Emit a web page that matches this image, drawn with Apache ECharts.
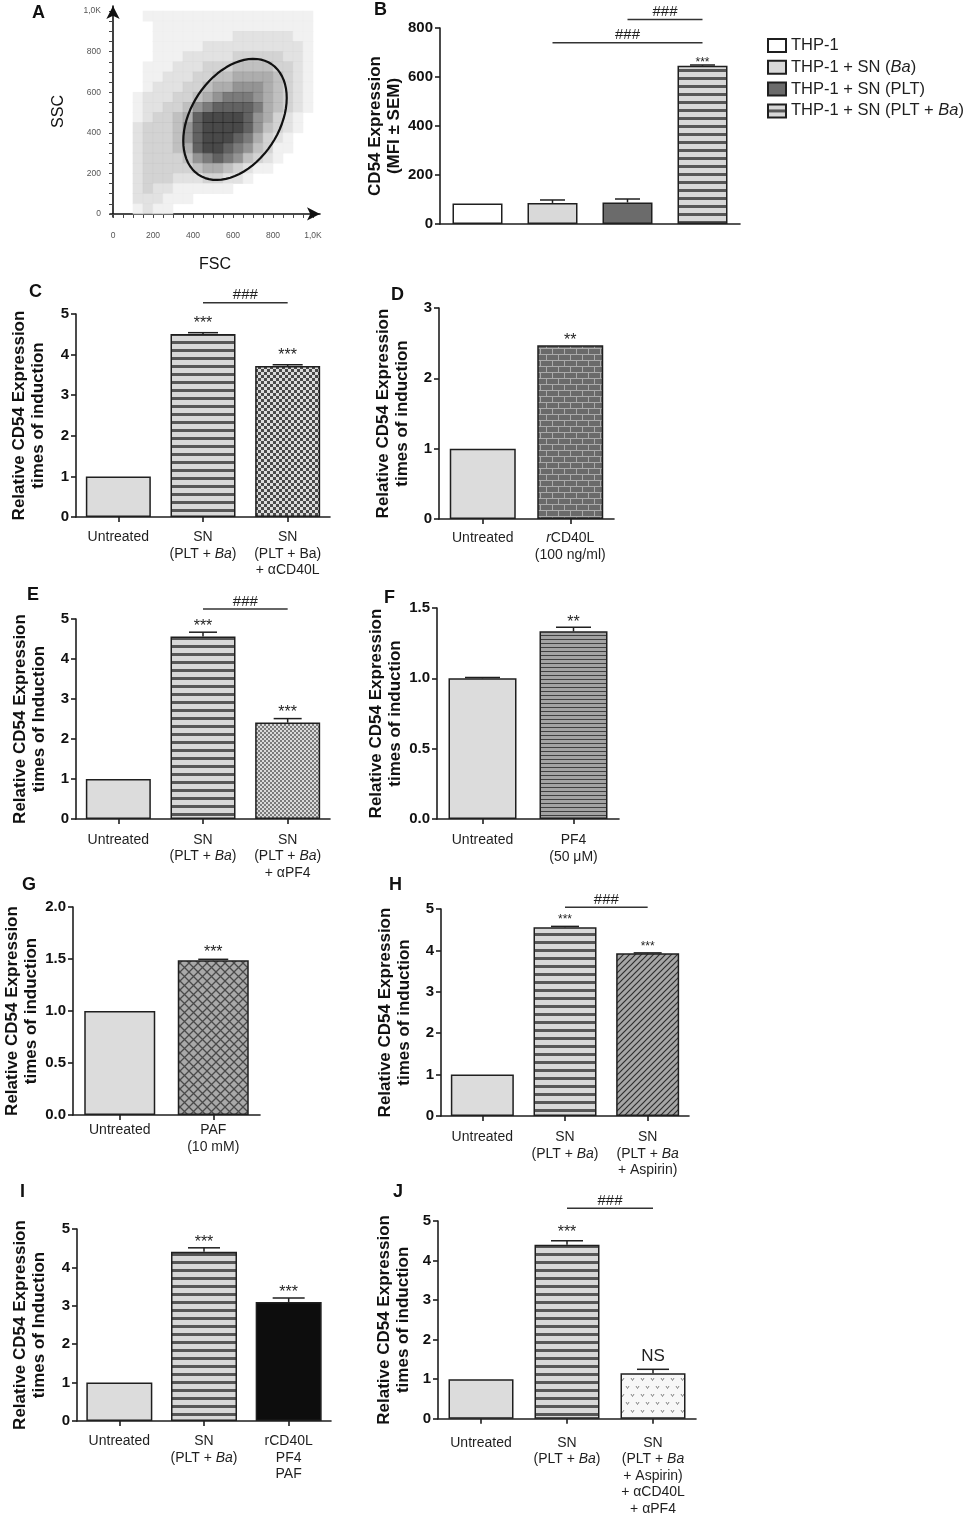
<!DOCTYPE html>
<html>
<head>
<meta charset="utf-8">
<title>CD54 expression panels</title>
<script src="https://cdn.jsdelivr.net/npm/echarts@6/dist/echarts.min.js"></script>
<style>
  html, body { margin: 0; padding: 0; background: #fff; }
  #main { width: 966px; height: 1516px; }
</style>
</head>
<body>
<div id="main"></div>
<script>
// ---------- A: FSC / SSC dot plot (density per 50-unit bin) ----------
var aTicks = [0, 200, 400, 600, 800, 1000];
var aMinorTicks = [0, 50, 100, 150, 200, 250, 300, 350, 400, 450, 500, 550, 600, 650, 700, 750, 800, 850, 900, 950, 1000];
var aBin = 50;
// rows from SSC 950-1000 (top) down to 0-50; columns FSC 0-50 ... 950-1000
var aDensity = [
  '00011111111111111111',
  '00001111111111111111',
  '00001111111122222211',
  '00001111122222222221',
  '00001112222233333221',
  '00011122233344443321',
  '00011222334455554321',
  '00012223345566654321',
  '00122233456777654321',
  '00122334678888754321',
  '00123345899998653210',
  '00233346899998643210',
  '00233346899987532100',
  '00233345899876431100',
  '00233334678764321000',
  '00233333455432110000',
  '00233322233221000000',
  '00232211111100000000',
  '00222111000000000000',
  '00121100000000000000'
];
var aGate = { cx: 610, cy: 466, a: 328, b: 220, angle: 56 };

// ---------- B ----------
var bNames = ['THP-1', 'THP-1 + SN (_Ba_)', 'THP-1 + SN (PLT)', 'THP-1 + SN (PLT + _Ba_)'];
var bMeans = [84, 86, 88, 646];
var bSem = [0, 12, 14, 3];
var bStars = ['', '', '', '***'];
var bBrackets = [[1, 3, 740, '###'], [2, 3, 835, '###']];

// ---------- C ----------
var cCats = ['Untreated', 'SN\n(PLT + _Ba_)', 'SN\n(PLT + Ba)\n+ \u03b1CD40L'];
var cMeans = [1.0, 4.51, 3.72];
var cSem = [0, 0.03, 0.03];
var cStars = ['', '***', '***'];
var cBrackets = [[1, 2, 5.28, '###']];

// ---------- D ----------
var dCats = ['Untreated', '_r_CD40L\n(100 ng/ml)'];
var dMeans = [1.0, 2.47];
var dSem = [0, 0];
var dStars = ['', '**'];

// ---------- E ----------
var eCats = ['Untreated', 'SN\n(PLT + _Ba_)', 'SN\n(PLT + _Ba_)\n+ \u03b1PF4'];
var eMeans = [1.0, 4.56, 2.41];
var eSem = [0, 0.11, 0.10];
var eStars = ['', '***', '***'];
var eBrackets = [[1, 2, 5.25, '###']];

// ---------- F ----------
var fCats = ['Untreated', 'PF4\n(50 \u03bcM)'];
var fMeans = [1.0, 1.334];
var fSem = [0.006, 0.03];
var fStars = ['', '**'];

// ---------- G ----------
var gCats = ['Untreated', 'PAF\n(10 mM)'];
var gMeans = [1.0, 1.487];
var gSem = [0, 0.01];
var gStars = ['', '***'];

// ---------- H ----------
var hCats = ['Untreated', 'SN\n(PLT + _Ba_)', 'SN\n(PLT + _Ba_\n+ Aspirin)'];
var hMeans = [1.0, 4.56, 3.93];
var hSem = [0, 0.02, 0.01];
var hStars = ['', '***', '***'];
var hBrackets = [[1, 2, 5.04, '###']];

// ---------- I ----------
var iCats = ['Untreated', 'SN\n(PLT + _Ba_)', 'rCD40L\nPF4\nPAF'];
var iMeans = [1.0, 4.41, 3.10];
var iSem = [0, 0.1, 0.1];
var iStars = ['', '***', '***'];

// ---------- J ----------
var jCats = ['Untreated', 'SN\n(PLT + _Ba_)', 'SN\n(PLT + _Ba_\n+ Aspirin)\n+ \u03b1CD40L\n+ \u03b1PF4'];
var jMeans = [1.0, 4.40, 1.15];
var jSem = [0, 0.1, 0.1];
var jStars = ['', '***', 'NS'];
var jBrackets = [[1, 2, 5.32, '###']];

var FONT = '"Liberation Sans", Arial, Helvetica, sans-serif';
var INK = '#1f1f1f';
var TITLE1 = 'Relative CD54 Expression\ntimes of induction';
var TITLE2 = 'Relative CD54 Expression\ntimes of Induction';

// fill patterns
function tile(w, h, paint) {
  var cv = document.createElement('canvas');
  cv.width = w; cv.height = h;
  paint(cv.getContext('2d'));
  return { image: cv, repeat: 'repeat' };
}
var plain = '#dcdcdc';
var stripes = tile(8, 8, function (g) {
  g.fillStyle = '#d8d8d8'; g.fillRect(0, 0, 8, 8);
  g.fillStyle = '#575757'; g.fillRect(0, 5, 8, 3);
});
var thinStripes = tile(4, 4, function (g) {
  g.fillStyle = '#a3a3a3'; g.fillRect(0, 0, 4, 4);
  g.fillStyle = '#404040'; g.fillRect(0, 3, 4, 1);
});
var checker = tile(6, 6, function (g) {
  g.fillStyle = '#dcdcdc'; g.fillRect(0, 0, 6, 6);
  g.fillStyle = '#4a4a4a'; g.fillRect(0, 0, 3, 3); g.fillRect(3, 3, 3, 3);
});
var fineChecker = tile(4, 4, function (g) {
  g.fillStyle = '#dadada'; g.fillRect(0, 0, 4, 4);
  g.fillStyle = '#7a7a7a'; g.fillRect(0, 0, 2, 2); g.fillRect(2, 2, 2, 2);
});
var brick = tile(12, 12, function (g) {
  g.fillStyle = '#6a6a6a'; g.fillRect(0, 0, 12, 12);
  g.fillStyle = '#aaaaaa';
  g.fillRect(0, 0, 12, 1); g.fillRect(0, 6, 12, 1);
  g.fillRect(0, 0, 1, 6); g.fillRect(6, 6, 1, 6);
});
var diamond = tile(9, 9, function (g) {
  g.fillStyle = '#a9a9a9'; g.fillRect(0, 0, 9, 9);
  g.strokeStyle = '#4a4a4a'; g.lineWidth = 1.3;
  g.beginPath(); g.moveTo(0, 0); g.lineTo(9, 9); g.moveTo(9, 0); g.lineTo(0, 9); g.stroke();
});
var diagonal = tile(6, 6, function (g) {
  g.fillStyle = '#a6a6a6'; g.fillRect(0, 0, 6, 6);
  g.strokeStyle = '#2e2e2e'; g.lineWidth = 1.2;
  g.beginPath(); g.moveTo(-1, 7); g.lineTo(7, -1); g.moveTo(-1, 1); g.lineTo(1, -1); g.moveTo(5, 7); g.lineTo(7, 5); g.stroke();
});
var vdots = tile(10, 16, function (g) {
  g.fillStyle = '#f7f7f7'; g.fillRect(0, 0, 10, 16);
  g.strokeStyle = '#7a7a7a'; g.lineWidth = 0.9;
  g.beginPath();
  g.moveTo(1, 2); g.lineTo(2.5, 4.5); g.lineTo(4, 2);
  g.moveTo(6, 10); g.lineTo(7.5, 12.5); g.lineTo(9, 10);
  g.stroke();
});

function richText(s) {
  return s.split('\n').map(function (line) {
    return line.split('_').map(function (part, k) {
      return part ? '{' + (k % 2 ? 'i' : 'n') + '|' + part + '}' : '';
    }).join('');
  }).join('\n');
}
function richStyle(size, lh) {
  return {
    n: { fontFamily: FONT, fontSize: size, lineHeight: lh, color: INK },
    i: { fontFamily: FONT, fontSize: size, lineHeight: lh, color: INK, fontStyle: 'italic' }
  };
}

var grids = [], xAxes = [], yAxes = [], series = [], titles = [];
var axisStyle = { color: INK, width: 1.6 };

function letter(t, cx, cy) {
  titles.push({ text: t, left: cx - 6, top: cy - 9, padding: 0,
    textStyle: { fontFamily: FONT, fontSize: 18, fontWeight: 'bold', color: '#111' } });
}

function textStyle(txt, x, y, fs) {
  return { text: txt, x: x, y: y, font: fs + 'px ' + FONT, fill: INK,
    align: 'center', verticalAlign: 'middle', textAlign: 'center', textVerticalAlign: 'middle' };
}

function addBarPanel(p) {
  var gi = grids.length, xi = xAxes.length, yi = yAxes.length;
  grids.push({ left: p.box[0], top: p.box[1], width: p.box[2], height: p.box[3] });
  xAxes.push({
    type: 'category', gridIndex: gi, data: p.cats,
    axisLine: { lineStyle: axisStyle },
    axisTick: { show: !p.legend, alignWithLabel: true, length: 5, lineStyle: axisStyle },
    axisLabel: { show: !p.legend, interval: 0, margin: p.labelMargin, formatter: richText, rich: richStyle(14, 16.5) }
  });
  yAxes.push({
    type: 'value', gridIndex: gi, min: 0, max: p.max, interval: p.step,
    splitLine: { show: false },
    axisLine: { show: true, lineStyle: axisStyle },
    axisTick: { show: true, length: 5, lineStyle: axisStyle },
    axisLabel: { margin: 7, color: '#111', fontFamily: FONT, fontSize: 15, fontWeight: 'bold',
      formatter: function (v) { return p.step < 1 ? v.toFixed(1) : String(v); } },
    name: p.yTitle, nameLocation: 'middle', nameGap: p.nameGap,
    nameTextStyle: { fontFamily: FONT, fontSize: 17, fontWeight: 'bold', color: '#111', lineHeight: 19 }
  });

  if (p.legend) {
    p.cats.forEach(function (name, k) {
      series.push({
        type: 'bar', name: name, xAxisIndex: xi, yAxisIndex: yi, barWidth: p.barWidth, barGap: '-100%',
        data: p.means.map(function (v, i) { return i === k ? v : '-'; }),
        itemStyle: { color: p.fills[k], borderColor: INK, borderWidth: 1.5 }
      });
    });
  } else {
    series.push({
      type: 'bar', xAxisIndex: xi, yAxisIndex: yi, barWidth: p.barWidth,
      data: p.means.map(function (v, i) { return { value: v, itemStyle: { color: p.fills[i] } }; }),
      itemStyle: { borderColor: INK, borderWidth: 1.5 }
    });
  }

  // error bars (upper half only, as in the figure)
  series.push({
    type: 'custom', xAxisIndex: xi, yAxisIndex: yi, z: 3,
    data: p.means.map(function (v, i) { return [i, v, v + p.sem[i]]; }),
    renderItem: function (params, api) {
      if (!p.sem[params.dataIndex]) return null;
      var lo = api.coord([api.value(0), api.value(1)]);
      var hi = api.coord([api.value(0), api.value(2)]);
      var h = p.capWidth / 2;
      return { type: 'group', children: [
        { type: 'line', shape: { x1: lo[0], y1: lo[1], x2: hi[0], y2: hi[1] }, style: { stroke: INK, lineWidth: 1.5 } },
        { type: 'line', shape: { x1: hi[0] - h, y1: hi[1], x2: hi[0] + h, y2: hi[1] }, style: { stroke: INK, lineWidth: 1.5 } }
      ] };
    }
  });

  // significance marks
  series.push({
    type: 'custom', xAxisIndex: xi, yAxisIndex: yi, z: 4,
    data: p.means.map(function (v, i) { return [i, v + p.sem[i]]; }),
    renderItem: function (params, api) {
      var mark = p.stars[params.dataIndex];
      if (!mark) return null;
      var pt = api.coord([api.value(0), api.value(1)]);
      var star = mark.charAt(0) === '*';
      var fs = star ? p.starSize : 17;
      var y = star ? pt[1] - p.starGap + 0.22 * fs : pt[1] - 13;
      return { type: 'text', style: textStyle(mark, pt[0], y, fs) };
    }
  });

  if (p.brackets) {
    series.push({
      type: 'custom', xAxisIndex: xi, yAxisIndex: yi, z: 4,
      data: p.brackets.map(function (b) { return [b[0], b[2]]; }),
      renderItem: function (params, api) {
        var b = p.brackets[params.dataIndex];
        var s = api.coord([b[0], b[2]]), e = api.coord([b[1], b[2]]);
        return { type: 'group', children: [
          { type: 'line', shape: { x1: s[0], y1: s[1], x2: e[0], y2: e[1] }, style: { stroke: '#333', lineWidth: 1.5 } },
          { type: 'text', style: textStyle(b[3], (s[0] + e[0]) / 2, s[1] - 7.5, 15) }
        ] };
      }
    });
  }
}

// ---------- panel A ----------
grids.push({ left: 110, top: 6, width: 210, height: 211 });
var aLabelStyle = { fontFamily: FONT, fontSize: 8.5, color: '#555',
  formatter: function (v) { return v === 1000 ? '1,0K' : String(v); } };
xAxes.push({
  type: 'value', gridIndex: 0, position: 'bottom', min: -15, max: 1035,
  axisLine: { show: false }, splitLine: { show: false },
  axisTick: { show: true, customValues: aMinorTicks, length: 4, lineStyle: { color: '#444' } },
  axisLabel: Object.assign({ customValues: aTicks, margin: 14 }, aLabelStyle)
});
xAxes.push({
  type: 'value', gridIndex: 0, position: 'bottom', offset: 36, min: -15, max: 1035,
  axisLine: { show: true, symbol: ['none', 'arrow'], symbolSize: [10, 13], lineStyle: { color: '#111', width: 1.6 } },
  axisTick: { show: false }, axisLabel: { show: false }, splitLine: { show: false },
  name: 'FSC', nameLocation: 'middle', nameGap: 4,
  nameTextStyle: { fontFamily: FONT, fontSize: 16, color: '#111', verticalAlign: 'top' }
});
yAxes.push({
  type: 'value', gridIndex: 0, position: 'left', min: -15, max: 1025,
  axisLine: { show: false }, splitLine: { show: false },
  axisTick: { show: true, customValues: aMinorTicks, length: 4, lineStyle: { color: '#444' } },
  axisLabel: Object.assign({ customValues: aTicks, margin: 9 }, aLabelStyle)
});
yAxes.push({
  type: 'value', gridIndex: 0, position: 'left', offset: 35, min: -15, max: 1025,
  axisLine: { show: true, symbol: ['none', 'arrow'], symbolSize: [10, 13], lineStyle: { color: '#111', width: 1.6 } },
  axisTick: { show: false }, axisLabel: { show: false }, splitLine: { show: false },
  name: 'SSC', nameLocation: 'middle', nameGap: 8,
  nameTextStyle: { fontFamily: FONT, fontSize: 16, color: '#111' }
});

var aCells = [];
aDensity.forEach(function (row, r) {
  for (var c = 0; c < row.length; c++) {
    var d = +row.charAt(c);
    if (d > 0) aCells.push([c * aBin + aBin / 2, 1000 - r * aBin - aBin / 2, d]);
  }
});
series.push({
  type: 'scatter', xAxisIndex: 0, yAxisIndex: 0, symbol: 'rect', symbolSize: [10.6, 10.8],
  data: aCells, silent: true, z: 1
});
var aDensityIndex = series.length - 1;

var aRing = [];
var th = aGate.angle * Math.PI / 180;
for (var k = 0; k <= 72; k++) {
  var t = k * 5 * Math.PI / 180;
  aRing.push([
    aGate.cx + aGate.a * Math.cos(t) * Math.cos(th) - aGate.b * Math.sin(t) * Math.sin(th),
    aGate.cy + aGate.a * Math.cos(t) * Math.sin(th) + aGate.b * Math.sin(t) * Math.cos(th)
  ]);
}
series.push({
  type: 'line', xAxisIndex: 0, yAxisIndex: 0, data: aRing, showSymbol: false, z: 5,
  lineStyle: { color: '#111', width: 2.2 }, silent: true
});
letter('A', 38, 13);

// ---------- bar panels ----------
addBarPanel({ box: [440, 28, 300, 196], cats: bNames, means: bMeans, sem: bSem, stars: bStars,
  brackets: bBrackets, max: 800, step: 200, legend: true, barWidth: 50, capWidth: 25,
  fills: ['#ffffff', '#d9d9d9', '#6b6b6b', stripes], starSize: 12, starGap: 5, labelMargin: 10,
  yTitle: 'CD54 Expression\n(MFI \u00b1 SEM)', nameGap: 34 });
letter('B', 380, 10);

addBarPanel({ box: [76, 314, 254, 203], cats: cCats, means: cMeans, sem: cSem, stars: cStars, brackets: cBrackets,
  max: 5, step: 1, barWidth: 65, capWidth: 30, fills: [plain, stripes, checker], starSize: 16, starGap: 13,
  labelMargin: 12, yTitle: TITLE1, nameGap: 28 });
letter('C', 35, 292);

addBarPanel({ box: [439, 308, 175, 211], cats: dCats, means: dMeans, sem: dSem, stars: dStars,
  max: 3, step: 1, barWidth: 66, capWidth: 30, fills: [plain, brick], starSize: 16, starGap: 8,
  labelMargin: 11, yTitle: TITLE1, nameGap: 27 });
letter('D', 397, 295);

addBarPanel({ box: [76, 619, 254, 200], cats: eCats, means: eMeans, sem: eSem, stars: eStars, brackets: eBrackets,
  max: 5, step: 1, barWidth: 65, capWidth: 28, fills: [plain, stripes, fineChecker], starSize: 16, starGap: 9.5,
  labelMargin: 12.5, yTitle: TITLE2, nameGap: 27 });
letter('E', 33, 595);

addBarPanel({ box: [437, 608, 182, 211], cats: fCats, means: fMeans, sem: fSem, stars: fStars,
  max: 1.5, step: 0.5, barWidth: 68, capWidth: 35, fills: [plain, thinStripes], starSize: 16, starGap: 8,
  labelMargin: 13, yTitle: TITLE1, nameGap: 26 });
letter('F', 390, 598);

addBarPanel({ box: [73, 907, 187, 208], cats: gCats, means: gMeans, sem: gSem, stars: gStars,
  max: 2, step: 0.5, barWidth: 71, capWidth: 30, fills: [plain, diamond], starSize: 16, starGap: 10,
  labelMargin: 7, yTitle: TITLE1, nameGap: 31 });
letter('G', 28, 885);

addBarPanel({ box: [441, 909, 248, 207], cats: hCats, means: hMeans, sem: hSem, stars: hStars, brackets: hBrackets,
  max: 5, step: 1, barWidth: 63, capWidth: 28, fills: [plain, stripes, diagonal], starSize: 12, starGap: 9,
  labelMargin: 13, yTitle: TITLE1, nameGap: 27 });
letter('H', 395, 885);

addBarPanel({ box: [77, 1229, 254, 192], cats: iCats, means: iMeans, sem: iSem, stars: iStars,
  max: 5, step: 1, barWidth: 66, capWidth: 32, fills: [plain, stripes, '#0d0d0d'], starSize: 16, starGap: 9,
  labelMargin: 12, yTitle: TITLE2, nameGap: 28 });
letter('I', 26, 1192);

addBarPanel({ box: [438, 1221, 258, 201], cats: jCats, means: jMeans, sem: jSem, stars: jStars, brackets: jBrackets,
  max: 5, step: 1, barWidth: 65, capWidth: 32, fills: [plain, stripes, vdots], starSize: 16, starGap: 11.5,
  labelMargin: 16, yTitle: TITLE1, nameGap: 25 });
letter('J', 399, 1192);

var chart = echarts.init(document.getElementById('main'));
chart.setOption({
  animation: false,
  backgroundColor: '#ffffff',
  title: titles,
  grid: grids,
  xAxis: xAxes,
  yAxis: yAxes,
  legend: {
    left: 762, top: 32, orient: 'vertical', icon: 'rect',
    itemWidth: 18, itemHeight: 13, itemGap: 4.8,
    data: bNames, selectedMode: false,
    formatter: richText,
    textStyle: { fontFamily: FONT, fontSize: 16.5, color: INK, rich: richStyle(16.5, 17.5) }
  },
  visualMap: {
    type: 'continuous', show: false, seriesIndex: aDensityIndex, dimension: 2, min: 1, max: 9,
    inRange: { color: ['#eeeeee', '#c8c8c8', '#989898', '#5a5a5a', '#1c1c1c'] }
  },
  series: series
});
</script>
</body>
</html>
